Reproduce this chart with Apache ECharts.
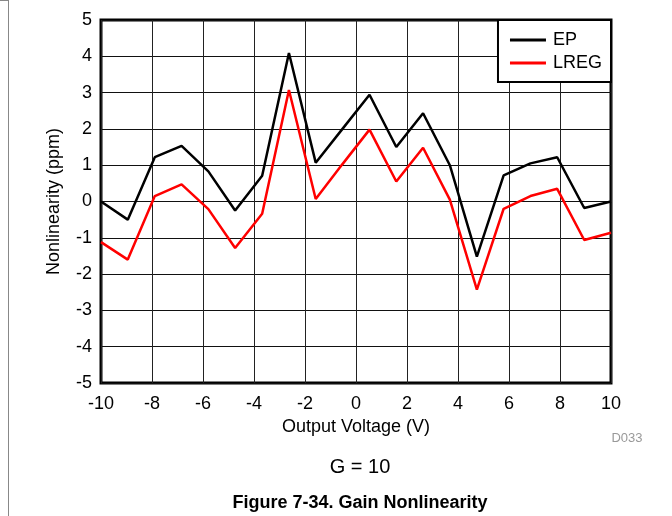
<!DOCTYPE html>
<html>
<head>
<meta charset="utf-8">
<script src="https://cdn.jsdelivr.net/npm/echarts@6/dist/echarts.min.js"></script>
<style>
html,body{margin:0;padding:0;background:#fff;}
#chart{width:672px;height:516px;}
</style>
</head>
<body>
<div id="chart"></div>
<script>
const xValues = [-10, -8.95, -7.89, -6.84, -5.79, -4.74, -3.68, -2.63, -1.58, -0.53, 0.53, 1.58, 2.63, 3.68, 4.74, 5.79, 6.84, 7.89, 8.95, 10];
const epValues = [0, -0.5, 1.22, 1.53, 0.83, -0.25, 0.71, 4.09, 1.07, 2.0, 2.94, 1.5, 2.43, 1.0, -1.52, 0.72, 1.05, 1.22, -0.18, 0];
const lregValues = [-1.12, -1.6, 0.15, 0.47, -0.21, -1.28, -0.34, 3.07, 0.07, 1.03, 1.98, 0.55, 1.48, 0.05, -2.43, -0.2, 0.15, 0.35, -1.06, -0.86];
const seriesNames = ['EP', 'LREG'];
const xAxisTitle = 'Output Voltage (V)';
const yAxisTitle = 'Nonlinearity (ppm)';
const subTitle = 'G = 10';
const figTitle = 'Figure 7-34. Gain Nonlinearity';
const codeLabel = 'D033';

const FONT = 'Liberation Sans, Arial, Helvetica, sans-serif';
const chart = echarts.init(document.getElementById('chart'), null, {renderer: 'canvas'});

const pair = (ys) => xValues.map((x, i) => [x, ys[i]]);

chart.setOption({
  animation: false,
  backgroundColor: '#fff',
  grid: {left: 101, top: 20, width: 510, height: 363, show: true, borderColor: '#000', borderWidth: 3, backgroundColor: 'transparent'},
  xAxis: {
    type: 'value', min: -10, max: 10, interval: 2,
    name: xAxisTitle, nameLocation: 'middle', nameGap: 34,
    nameTextStyle: {fontFamily: FONT, fontSize: 18, color: '#000'},
    axisLine: {show: false}, axisTick: {show: false},
    axisLabel: {fontFamily: FONT, fontSize: 18, color: '#000', margin: 12},
    splitLine: {show: true, lineStyle: {color: '#222', width: 1}}
  },
  yAxis: {
    type: 'value', min: -5, max: 5, interval: 1,
    name: yAxisTitle, nameLocation: 'middle', nameGap: 38, nameRotate: 90,
    nameTextStyle: {fontFamily: FONT, fontSize: 18, color: '#000'},
    axisLine: {show: false}, axisTick: {show: false},
    axisLabel: {fontFamily: FONT, fontSize: 18, color: '#000', margin: 9},
    splitLine: {show: true, lineStyle: {color: '#111', width: 1}}
  },
  legend: {
    orient: 'vertical', right: 61, top: 20,
    data: seriesNames.map(n => ({name: n, icon: 'rect'})),
    backgroundColor: '#fff', borderColor: '#000', borderWidth: 2,
    padding: [11, 9, 10, 12], itemGap: 5, itemWidth: 36, itemHeight: 3,
    textStyle: {fontFamily: FONT, fontSize: 18, color: '#000', padding: [0, 0, 0, 2]}
  },
  title: [
    {text: subTitle, left: 355, top: 452, textAlign: 'center', textStyle: {fontFamily: FONT, fontSize: 20, fontWeight: 'normal', color: '#000'}},
    {text: figTitle, left: 355, top: 489, textAlign: 'center', textStyle: {fontFamily: FONT, fontSize: 18, fontWeight: 'bold', color: '#000'}},
    {text: codeLabel, left: 622, top: 427, textAlign: 'center', textStyle: {fontFamily: FONT, fontSize: 13, fontWeight: 'normal', color: '#999'}}
  ],
  graphic: [
    {type: 'line', shape: {x1: 8.5, y1: 0, x2: 8.5, y2: 516}, style: {stroke: '#888', lineWidth: 1}},
    {type: 'line', shape: {x1: 0, y1: 0.5, x2: 8.5, y2: 0.5}, style: {stroke: '#888', lineWidth: 1}}
  ],
  series: [
    {name: seriesNames[0], type: 'line', data: pair(epValues), symbol: 'none', lineStyle: {color: '#000', width: 2.5}, itemStyle: {color: '#000'}, z: 3},
    {name: seriesNames[1], type: 'line', data: pair(lregValues), symbol: 'none', lineStyle: {color: '#ff0000', width: 2.5}, itemStyle: {color: '#ff0000'}, z: 2}
  ]
});
</script>
</body>
</html>
